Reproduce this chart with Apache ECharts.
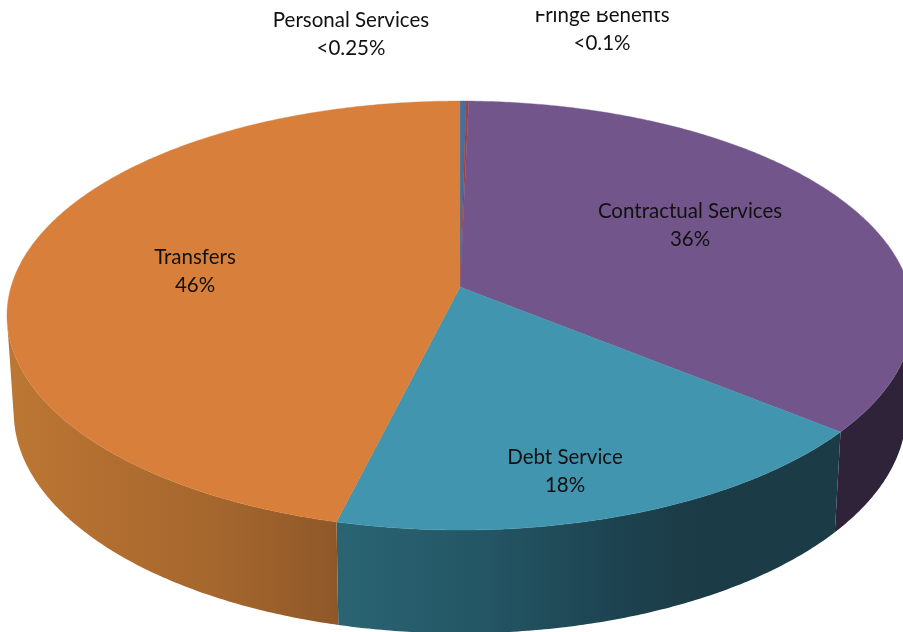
<!DOCTYPE html>
<html>
<head>
<meta charset="utf-8">
<style>html,body{margin:0;padding:0;background:#fff}#c{width:903px;height:632px}</style>
<script src="https://cdn.jsdelivr.net/npm/echarts@6/dist/echarts.min.js"></script>
</head>
<body>
<div id="c"></div>
<script>
// ---- data, clockwise from 12 o'clock ----
const categories = ['Personal Services', 'Fringe Benefits', 'Contractual Services', 'Debt Service', 'Transfers'];
const shares = [0.25, 0.1, 35.5, 18, 46.15];
const shareLabels = ['<0.25%', '<0.1%', '36%', '18%', '46%'];

// ---- styling ----
const topColors = ['#3E6FA5', '#A5403C', '#72568B', '#4195AE', '#D8803B'];
const wallFills = [
  [[0, '#24405E'], [1, '#24405E']],
  [[0, '#5E2624'], [1, '#5E2624']],
  [[0, '#2E2338'], [1, '#2E2338']],
  [[0, '#2A6473'], [0.3, '#235564'], [0.55, '#1D4350'], [0.72, '#1B3B46'], [1, '#1B3B46']],
  [[0, '#BC7734'], [0.3, '#B26E30'], [0.62, '#A5672D'], [1, '#8F5729']]
];
const wallSpan = [[0, 903], [0, 903], [835, 903], [340, 840], [8, 340]];
const labelAt = [[351, 34], [602, 29], [690, 225], [565, 471], [195, 271]];
const labelSize = [20.5, 20.5, 20.5, 20.5, 20.5];

// ---- perspective disc ----
const apexX = 460, apexY = 287, radX = 449, radY = 210.7, tilt = 0.133;
const wallBase = 96, wallGrow = 0.03, wallShrink = 0.985;

function topPoint(turn, r) {
  const a = turn * 2 * Math.PI, u = r * Math.sin(a), v = r * Math.cos(a), w = 1 + tilt * v;
  return [apexX + radX * u / w, apexY - radY * v / w];
}
function basePoint(p) {
  return [apexX + (p[0] - apexX) * wallShrink, p[1] + wallBase + wallGrow * (p[1] - apexY)];
}
function arc(from, to) {
  const n = Math.max(2, Math.ceil((to - from) * 720)), pts = [];
  for (let i = 0; i <= n; i++) pts.push(topPoint(from + (to - from) * i / n, 1));
  return pts;
}
// keeps the part of an arc whose wall faces the viewer
function frontPart(pts) {
  const keep = [];
  for (let k = 0; k + 1 < pts.length; k++) {
    const p = pts[k], q = pts[k + 1], b = basePoint(p);
    const cross = (q[0] - p[0]) * (b[1] - p[1]) - (q[1] - p[1]) * (b[0] - p[0]);
    if (cross < 0) {
      if (!keep.length) keep.push(p);
      keep.push(q);
    }
  }
  return keep;
}

const total = shares.reduce((a, b) => a + b, 0);
let running = 0;
const rows = shares.map((s, i) => {
  const row = { name: categories[i], value: [running / total, (running + s) / total, s] };
  running += s;
  return row;
});

function renderWall(params, api) {
  const i = params.dataIndex, pts = frontPart(arc(api.value(0), api.value(1)));
  if (pts.length < 2) return { type: 'group', children: [] };
  const span = wallSpan[i];
  const fill = {
    type: 'linear', global: true, x: span[0], y: 0, x2: span[1], y2: 0,
    colorStops: wallFills[i].map(s => ({ offset: s[0], color: s[1] }))
  };
  return {
    type: 'polygon',
    shape: { points: pts.concat(pts.map(basePoint).reverse()) },
    style: { fill: fill }
  };
}
function renderTop(params, api) {
  const i = params.dataIndex, pts = arc(api.value(0), api.value(1));
  return {
    type: 'polygon',
    shape: { points: [[apexX, apexY]].concat(pts) },
    style: { fill: topColors[i], stroke: topColors[i], lineWidth: 0.4 }
  };
}
function renderLabel(params, api) {
  const i = params.dataIndex;
  return {
    type: 'text',
    style: {
      x: labelAt[i][0], y: labelAt[i][1],
      text: categories[i] + '\n' + shareLabels[i],
      fill: '#111', align: 'center', verticalAlign: 'middle',
      font: labelSize[i] + 'px Lato', lineHeight: 28
    }
  };
}

const chart = echarts.init(document.getElementById('c'), null, { renderer: 'canvas' });
chart.setOption({
  animation: false,
  backgroundColor: '#fff',
  series: [
    { type: 'custom', coordinateSystem: 'none', silent: true, z: 1, data: rows, renderItem: renderWall, encode: {} },
    { type: 'custom', coordinateSystem: 'none', silent: true, z: 2, data: rows, renderItem: renderTop, encode: {} },
    { type: 'custom', coordinateSystem: 'none', silent: true, z: 3, data: rows, renderItem: renderLabel, encode: {} }
  ],
  graphic: [{ type: 'rect', z: 100, shape: { x: 0, y: 0, width: 903, height: 11 }, style: { fill: '#fff' } }]
});
</script>
</body>
</html>
